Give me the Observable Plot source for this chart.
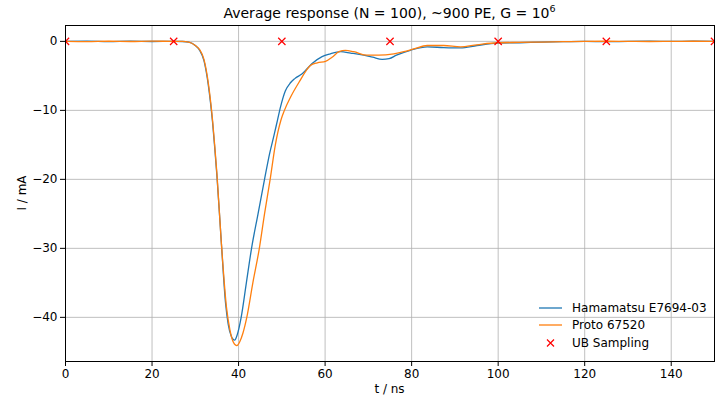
<!DOCTYPE html>
<html>
<head>
<meta charset="utf-8">
<script src="https://cdn.jsdelivr.net/npm/d3@7"></script>
<script src="https://cdn.jsdelivr.net/npm/@observablehq/plot@0.6"></script>
<style>
  body { margin: 0; background: white; font-family: "DejaVu Sans", sans-serif; }
  #wrap { position: relative; width: 718px; height: 397px; }
  .ov { position: absolute; white-space: nowrap; color: #000; }
  #title { left: 65px; width: 649px; top: 5px; text-align: center; font-size: 14px; line-height: 16px; }
  #title sup { font-size: 9.5px; line-height: 0; vertical-align: 6px; }
  #xlabel { left: 65px; width: 649px; top: 382px; text-align: center; font-size: 12px; line-height: 14px; }
  #ylabel { left: 22px; top: 193px; font-size: 12px; line-height: 14px; transform: translate(-50%, -50%) rotate(-90deg); }
  .leg { position: absolute; left: 538px; font-size: 12px; line-height: 14px; display: flex; align-items: center; }
  .leg svg { margin-right: 9px; }
</style>
</head>
<body>
<div id="wrap">
  <div id="title" class="ov">Average response (N = 100), ~900 PE, G = 10<sup>6</sup></div>
  <div id="xlabel" class="ov">t / ns</div>
  <div id="ylabel" class="ov">I / mA</div>
</div>
<script>
// ---- data ----
const hamT = [0, 5, 10, 15, 20, 25, 27, 28.5, 30, 31, 32, 33, 33.5, 34, 34.5, 35, 36, 37, 37.6, 38.3, 39.1, 39.7, 40.6, 41.8, 43.0, 44.5, 46.0, 47.2, 48.2, 49.0, 49.7, 50.8, 52.0, 53.0, 54.7, 57.0, 59.3, 61.2, 63.6, 65.9, 68.9, 71.0, 73.2, 74.8, 76.5, 79.7, 83.6, 87.4, 91.3, 95.1, 99.8, 105, 110, 115, 120, 125, 130, 135, 140, 145, 150];
const hamI = [0, 0.03, -0.03, 0.02, -0.02, 0, -0.02, -0.1, -0.6, -1.3, -2.8, -6.3, -8.8, -11.8, -15.5, -19.5, -29, -38, -41, -42.7, -43.3, -42.5, -40, -35, -30, -25, -20, -16.2, -13.6, -11.4, -9.5, -7.2, -6.0, -5.4, -4.7, -3.2, -2.2, -1.8, -1.5, -1.7, -2.0, -2.3, -2.6, -2.5, -2.0, -1.3, -0.8, -0.9, -0.95, -0.6, -0.25, -0.2, -0.1, -0.05, 0, -0.05, 0, 0.02, 0, 0.02, 0];

const protoT = [0, 5, 10, 15, 20, 25, 27, 28.5, 30, 31, 32, 33, 33.5, 34, 34.5, 35, 36, 37.2, 38.0, 38.8, 39.6, 40.3, 41.0, 41.9, 43.3, 44.8, 46.0, 47.3, 48.5, 49.8, 50.6, 52.0, 53.9, 56.6, 58.2, 60.1, 61.6, 63.2, 64.7, 66.6, 69.7, 72.4, 75.9, 78.2, 80.5, 83.6, 87.4, 91.3, 95.1, 99.8, 105, 110, 115, 120, 125, 130, 135, 140, 145, 150];
const protoI = [0, -0.03, 0.02, -0.02, 0.03, 0, 0, -0.1, -0.6, -1.2, -2.6, -6.0, -8.5, -11.5, -15.2, -19.2, -29, -38.5, -41.8, -43.6, -44.1, -43.5, -42.3, -40, -35, -30, -25, -20, -15, -11.4, -10, -8.1, -6.0, -3.5, -3.1, -2.9, -2.3, -1.5, -1.3, -1.5, -2.0, -2.0, -1.8, -1.5, -1.1, -0.6, -0.6, -0.8, -0.5, -0.2, -0.15, -0.1, -0.05, 0, 0.02, 0, -0.02, 0, 0.02, 0];

const sampleT = [0, 25, 50, 75, 100, 125, 150];
const sampleI = [0, 0, 0, 0, 0, 0, 0];

const xTicks = [0, 20, 40, 60, 80, 100, 120, 140];
const yTicks = [0, -10, -20, -30, -40];

const seriesNames = ["Hamamatsu E7694-03", "Proto 67520", "UB Sampling"];
const seriesColors = ["#1f77b4", "#ff7f0e", "#ff0000"];

// ---- build tables ----
const ham = hamT.map((t, k) => ({t, i: hamI[k]}));
const proto = protoT.map((t, k) => ({t, i: protoI[k]}));
const samples = sampleT.map((t, k) => ({t, i: sampleI[k]}));

const gridStyle = {stroke: "#b0b0b0", strokeOpacity: 1, strokeWidth: 0.8};

const plot = Plot.plot({
  width: 718,
  height: 397,
  marginLeft: 65,
  marginRight: 4,
  marginTop: 25,
  marginBottom: 36,
  style: {fontFamily: "DejaVu Sans", fontSize: "12px", background: "white", color: "black", overflow: "visible"},
  x: {domain: [0, 150]},
  y: {domain: [-46.4, 2.3]},
  marks: [
    Plot.gridX(xTicks, gridStyle),
    Plot.gridY(yTicks, gridStyle),
    Plot.line(ham, {x: "t", y: "i", stroke: seriesColors[0], strokeWidth: 1.3, curve: "monotone-x"}),
    Plot.line(proto, {x: "t", y: "i", stroke: seriesColors[1], strokeWidth: 1.3, curve: "monotone-x"}),
    Plot.dot(samples, {x: "t", y: "i", symbol: "times", stroke: seriesColors[2], r: 3.4, strokeWidth: 1.2, clip: true}),
    Plot.frame({stroke: "black", strokeWidth: 1}),
    Plot.axisX({ticks: xTicks, tickSize: 5, tickPadding: 3, label: null, fontSize: 12}),
    Plot.axisY({ticks: yTicks, tickSize: 5, tickPadding: 3, label: null, fontSize: 12})
  ]
});
const wrap = document.getElementById("wrap");
wrap.insertBefore(plot, wrap.firstChild);

// ---- legend ----
const legTops = [301, 318, 336];
seriesNames.forEach((name, k) => {
  const row = document.createElement("div");
  row.className = "leg";
  row.style.top = legTops[k] + "px";
  let sw;
  if (k < 2) {
    sw = `<svg width="25" height="12"><line x1="1" x2="24" y1="6" y2="6" stroke="${seriesColors[k]}" stroke-width="1.3"/></svg>`;
  } else {
    sw = `<svg width="25" height="12"><path d="M9,2.5L16,9.5M16,2.5L9,9.5" stroke="${seriesColors[k]}" stroke-width="1.2"/></svg>`;
  }
  row.innerHTML = sw + `<span>${name}</span>`;
  wrap.appendChild(row);
});
</script>
</body>
</html>
